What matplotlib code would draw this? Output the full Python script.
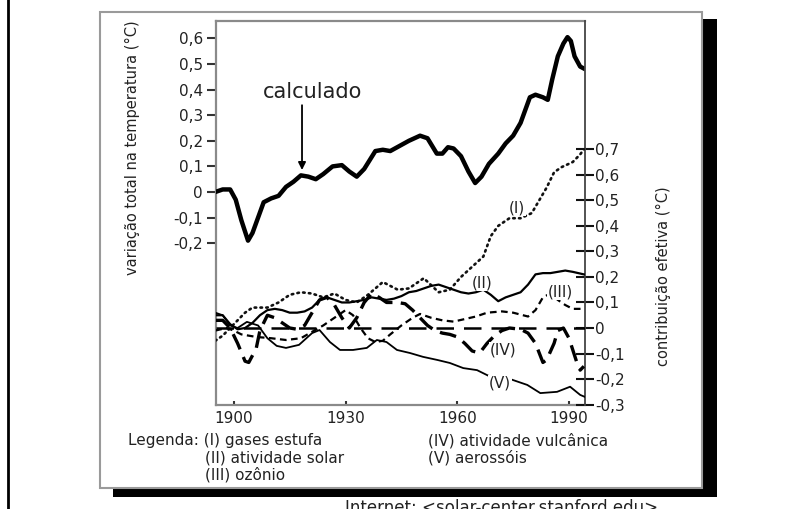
import matplotlib
matplotlib.use("Agg")
import matplotlib.pyplot as plt
from matplotlib.patches import Rectangle
from matplotlib.lines import Line2D

plt.rcParams['font.family'] = ['DejaVu Sans']

# ---- data: calculated total temperature change (left axis, °C)
calc_years = [1895, 1897, 1899, 1900.5, 1902, 1903.8, 1905, 1906.5, 1908, 1910, 1912, 1914,
              1916, 1918, 1920, 1922, 1924, 1926.5, 1929, 1931, 1933, 1935, 1936.5, 1938,
              1940, 1942, 1944.5, 1947, 1950, 1952, 1954.5, 1956, 1957.5, 1959, 1961, 1963,
              1964.8, 1966.5, 1968.5, 1971, 1973, 1975, 1977, 1979.5, 1981, 1983, 1984.3,
              1985.5, 1987, 1988.5, 1989.6, 1990.5, 1991.5, 1993, 1994.3]
calc_vals = [0.0, 0.01, 0.01, -0.03, -0.11, -0.19, -0.16, -0.10, -0.04, -0.025, -0.015, 0.02,
             0.04, 0.065, 0.06, 0.05, 0.07, 0.10, 0.105, 0.08, 0.06, 0.09, 0.125, 0.16,
             0.165, 0.16, 0.18, 0.20, 0.22, 0.21, 0.15, 0.15, 0.175, 0.17, 0.14, 0.08,
             0.035, 0.06, 0.11, 0.15, 0.19, 0.22, 0.27, 0.37, 0.38, 0.37, 0.36,
             0.44, 0.53, 0.58, 0.605, 0.59, 0.53, 0.49, 0.48]

# ---- (I) gases estufa
ghg_years = [1895, 1897, 1899, 1901, 1903, 1905, 1907, 1909, 1912, 1915, 1918, 1921, 1924,
             1927, 1930, 1933, 1936, 1940, 1944, 1947, 1951, 1955, 1958, 1961, 1964, 1967,
             1969, 1971, 1974, 1977, 1980, 1982, 1984, 1986, 1988, 1991, 1993, 1994]
ghg_vals = [-0.05, -0.03, 0.0, 0.03, 0.06, 0.08, 0.08, 0.08, 0.10, 0.13, 0.14, 0.135, 0.12,
            0.135, 0.11, 0.10, 0.13, 0.18, 0.15, 0.155, 0.195, 0.14, 0.15, 0.20, 0.24, 0.28,
            0.36, 0.40, 0.43, 0.43, 0.45, 0.50, 0.55, 0.61, 0.63, 0.65, 0.68, 0.70]

# ---- (II) atividade solar
sol_years = [1895, 1897, 1899, 1901, 1903, 1905, 1907, 1909, 1911, 1913, 1915, 1917, 1919,
             1921, 1923, 1925, 1927, 1929, 1931, 1933, 1935, 1937, 1939, 1941, 1943, 1945,
             1947, 1949, 1951, 1953, 1955, 1957, 1959, 1961, 1963, 1965, 1967, 1969, 1971,
             1973, 1975, 1977, 1979, 1981, 1983, 1985, 1987, 1989, 1991, 1994]
sol_vals = [0.05, 0.05, 0.015, -0.005, 0.0, 0.02, 0.05, 0.07, 0.075, 0.07, 0.06, 0.06, 0.065,
            0.08, 0.11, 0.12, 0.11, 0.10, 0.10, 0.105, 0.11, 0.12, 0.115, 0.11, 0.115, 0.125,
            0.14, 0.145, 0.155, 0.165, 0.17, 0.16, 0.15, 0.14, 0.135, 0.14, 0.15, 0.13, 0.105,
            0.12, 0.13, 0.14, 0.17, 0.21, 0.215, 0.215, 0.22, 0.225, 0.22, 0.21]

# ---- (III) ozônio
oz_years = [1895, 1898, 1900, 1902, 1906, 1910, 1914, 1918, 1921, 1924, 1927, 1930, 1932,
            1934, 1936, 1938, 1940, 1942, 1945, 1948, 1950, 1953, 1956, 1959, 1962, 1965,
            1968, 1972, 1975, 1979, 1981, 1983, 1985, 1987, 1989, 1991, 1994]
oz_vals = [-0.01, 0.0, -0.01, -0.025, -0.035, -0.04, -0.047, -0.04, -0.015, 0.01, 0.04, 0.07,
           0.05, 0.0, -0.04, -0.055, -0.05, -0.025, 0.01, 0.04, 0.055, 0.04, 0.03, 0.025,
           0.035, 0.045, 0.06, 0.065, 0.06, 0.045, 0.07, 0.12, 0.135, 0.11, 0.09, 0.075, 0.075]

# ---- (IV) atividade vulcânica
vol_years = [1895, 1897, 1899, 1901, 1903, 1904, 1906, 1907, 1909, 1911, 1913, 1915, 1917,
             1919, 1921, 1923, 1925, 1927, 1929, 1931, 1933, 1935, 1937, 1939, 1941, 1944,
             1946, 1948, 1950, 1952, 1954, 1956, 1958, 1960, 1962, 1964, 1966, 1968, 1970,
             1972, 1974, 1977, 1979, 1981, 1983, 1984, 1986, 1987, 1988.5, 1990, 1992, 1993,
             1994]
vol_vals = [0.03, 0.03, 0.0, -0.06, -0.13, -0.135, -0.08, -0.01, 0.05, 0.04, 0.02, 0.0, -0.005,
            0.01, 0.06, 0.11, 0.12, 0.09, 0.04, 0.0, 0.04, 0.10, 0.135, 0.12, 0.10, 0.10,
            0.095, 0.07, 0.04, 0.01, -0.01, -0.02, -0.025, -0.035, -0.06, -0.09, -0.098, -0.06,
            -0.03, -0.01, 0.0, -0.005, -0.02, -0.06, -0.135, -0.125, -0.06, -0.01, 0.0, -0.04,
            -0.13, -0.165, -0.15]

# ---- (V) aerossóis
aer_years = [1895, 1897, 1899, 1901, 1903.5, 1906.5, 1909, 1911.5, 1914, 1917.5, 1921, 1923,
             1925.8, 1928.5, 1932, 1935.7, 1938.4, 1941, 1943.8, 1947.3, 1950.8, 1954.6, 1958,
             1961.6, 1965.3, 1969.6, 1974.2, 1978.8, 1982.3, 1986.8, 1990.3, 1993, 1994.3]
aer_vals = [0.06, 0.05, 0.01, 0.0, 0.024, 0.01, -0.04, -0.07, -0.078, -0.066, -0.02, -0.008,
            -0.055, -0.086, -0.086, -0.078, -0.047, -0.055, -0.086, -0.098, -0.113, -0.125, -0.137,
            -0.157, -0.165, -0.196, -0.2, -0.223, -0.255, -0.25, -0.23, -0.262, -0.27]

left_ticks = [-0.2, -0.1, 0.0, 0.1, 0.2, 0.3, 0.4, 0.5, 0.6]
left_labels = ['-0,2', '-0,1', '0', '0,1', '0,2', '0,3', '0,4', '0,5', '0,6']
right_ticks = [-0.3, -0.2, -0.1, 0.0, 0.1, 0.2, 0.3, 0.4, 0.5, 0.6, 0.7]
right_labels = ['-0,3', '-0,2', '-0,1', '0', '0,1', '0,2', '0,3', '0,4', '0,5', '0,6', '0,7']
x_ticks = [1900, 1930, 1960, 1990]

W, H = 795, 509
fig = plt.figure(figsize=(W / 100, H / 100), dpi=100)
fig.patch.set_facecolor('white')

def fx(px):
    return px / W

def fy(py):
    return 1 - py / H

# left border line, card shadow and card
fig.add_artist(Line2D([fx(7.5), fx(7.5)], [0, 1], color='black', lw=2, zorder=-20))
fig.add_artist(Rectangle((fx(113), fy(497)), fx(717) - fx(113), fy(19) - fy(497),
                         transform=fig.transFigure, facecolor='black', edgecolor='none', zorder=-15))
fig.add_artist(Rectangle((fx(100), fy(488)), fx(702) - fx(100), fy(11.5) - fy(488),
                         transform=fig.transFigure, facecolor='white', edgecolor='#9a9a9a',
                         lw=1.5, zorder=-10))

ax = fig.add_axes([fx(216), fy(405), fx(585) - fx(216), fy(21) - fy(405)])
ax.set_facecolor('none')
ax.set_xlim(1895.2, 1994.3)
ax.set_ylim(-0.832, 0.668)
ax2 = ax.twinx()
ax2.set_ylim(-0.3016, 1.2025)

for sp in ['left', 'top', 'bottom']:
    ax.spines[sp].set_color('#8a8a8a')
    ax.spines[sp].set_linewidth(1.6)
ax.spines['right'].set_visible(False)
for sp in ['left', 'top', 'bottom']:
    ax2.spines[sp].set_visible(False)
ax2.spines['right'].set_color('#444444')
ax2.spines['right'].set_linewidth(1.3)

ax.set_yticks(left_ticks, left_labels)
ax.tick_params(axis='y', direction='out', length=6.5, width=1.5, color='#333333',
               labelsize=11, pad=3, labelcolor='#222222')
ax.set_xticks(x_ticks, [str(v) for v in x_ticks])
ax.tick_params(axis='x', direction='in', length=3, width=1.5, color='#333333',
               labelsize=11, pad=4, labelcolor='#222222')
ax2.set_yticks(right_ticks, right_labels)
ax2.tick_params(axis='y', direction='inout', length=13, width=1.5, color='#111111',
                labelsize=11, pad=1, labelcolor='#222222')

# top curve
ax.plot(calc_years, calc_vals, color='black', lw=3.2, solid_capstyle='round',
        solid_joinstyle='round', zorder=5)

# contribution curves
ax2.axhline(0, color='black', lw=1.8, linestyle=(0, (7, 4)), zorder=3)
ax2.plot(ghg_years, ghg_vals, color='#111111', lw=1.9, linestyle=(0, (0.6, 1.6)),
         dash_capstyle='round', zorder=4)
ax2.plot(sol_years, sol_vals, color='black', lw=1.6, zorder=4)
ax2.plot(oz_years, oz_vals, color='black', lw=1.6, linestyle=(0, (3, 2)), zorder=4)
ax2.plot(vol_years, vol_vals, color='black', lw=2.4, linestyle=(0, (5, 2.5)), zorder=4)
ax2.plot(aer_years, aer_vals, color='black', lw=1.3, zorder=4)

lab_kw = dict(fontsize=11, ha='center', va='center', color='#222222', zorder=6,
              bbox=dict(facecolor='white', edgecolor='none', pad=0.5))
ax2.text(1976.0, 0.47, '(I)', **lab_kw)
ax2.text(1966.7, 0.176, '(II)', **lab_kw)
ax2.text(1987.6, 0.141, '(III)', **lab_kw)
ax2.text(1972.3, -0.086, '(IV)', **lab_kw)
ax2.text(1971.5, -0.215, '(V)', **lab_kw)

# annotation
ax.text(1921.0, 0.39, 'calculado', fontsize=15, ha='center', va='center', color='#222222')
ax.annotate('', xy=(1918.3, 0.075), xytext=(1918.3, 0.35),
            arrowprops=dict(arrowstyle='-|>', color='black', lw=1.3, mutation_scale=11))

# axis titles
fig.text(fx(132), fy(148), 'variação total na temperatura (°C)', rotation=90,
         ha='center', va='center', fontsize=10.5, color='#222222')
fig.text(fx(663), fy(276), 'contribuição efetiva (°C)', rotation=90,
         ha='center', va='center', fontsize=10.5, color='#222222')

# legend text
leg_kw = dict(fontsize=11, color='#222222', ha='left', va='center')
fig.text(fx(128), fy(441), 'Legenda: (I) gases estufa', **leg_kw)
fig.text(fx(205), fy(458), '(II) atividade solar', **leg_kw)
fig.text(fx(205), fy(475), '(III) ozônio', **leg_kw)
fig.text(fx(428), fy(441), '(IV) atividade vulcânica', **leg_kw)
fig.text(fx(428), fy(458), '(V) aerossóis', **leg_kw)

fig.text(fx(345), fy(499), 'Internet: <solar-center.stanford.edu>', fontsize=12,
         color='#222222', ha='left', va='top')

fig.savefig('out.png', dpi=100, facecolor='white')
